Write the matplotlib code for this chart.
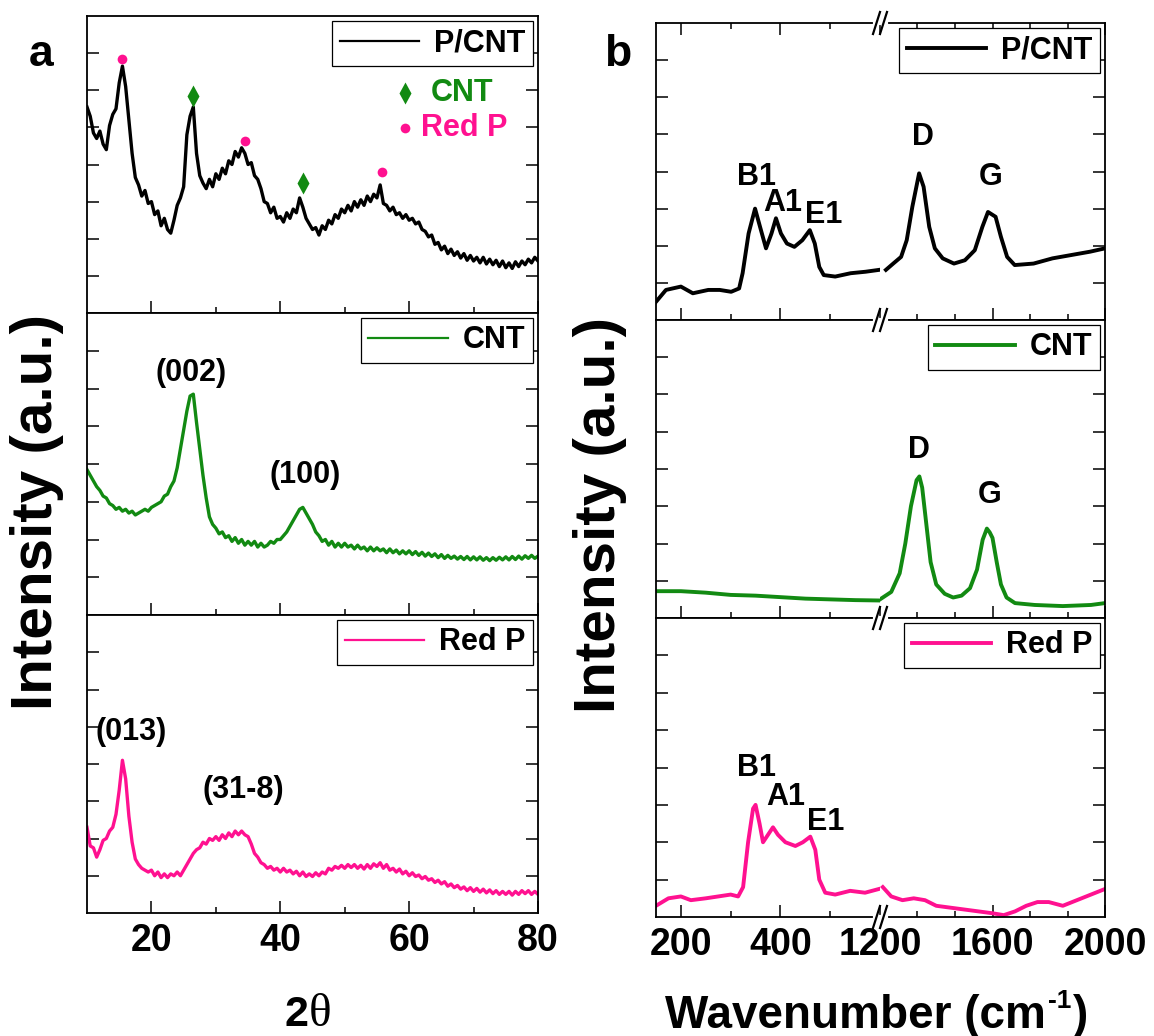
import numpy as np
import matplotlib
matplotlib.use('Agg')
import matplotlib.pyplot as plt
from matplotlib.lines import Line2D

plt.rcParams['font.family'] = ['Liberation Sans', 'DejaVu Sans']
plt.rcParams['font.weight'] = 'bold'

BLACK = 'black'
GREEN = '#128a12'
PINK = '#ff1190'

# ---- XRD data: 2theta grid (0.5 deg steps), intensity in panel units 0-8 ----
xrd_x = np.arange(10, 80.25, 0.5)

xrd_pcnt_y = [5.55, 5.3, 4.85, 4.7, 4.9, 4.55, 4.4, 5.05, 5.35, 5.5,
              6.2, 6.65, 6.1, 5.2, 4.3, 3.65, 3.45, 3.15, 3.3, 2.95,
              3.0, 2.65, 2.75, 2.35, 2.55, 2.25, 2.15, 2.5, 2.9, 3.1,
              3.4, 4.8, 5.3, 5.55, 4.3, 3.7, 3.5, 3.35, 3.6, 3.4,
              3.75, 3.6, 3.9, 3.75, 4.1, 4.0, 4.35, 4.2, 4.45, 4.3,
              4.0, 4.05, 3.7, 3.6, 3.35, 3.0, 2.95, 2.7, 2.85, 2.55,
              2.6, 2.45, 2.7, 2.55, 2.8, 2.7, 3.1, 2.85, 2.55, 2.4,
              2.25, 2.3, 2.1, 2.35, 2.25, 2.5, 2.4, 2.65, 2.55, 2.8,
              2.7, 2.9, 2.75, 3.0, 2.85, 3.05, 2.9, 3.15, 3.0, 3.2,
              3.1, 3.45, 2.95, 2.9, 2.75, 2.85, 2.65, 2.7, 2.55, 2.65,
              2.5, 2.55, 2.4, 2.45, 2.25, 2.2, 2.05, 2.1, 1.85, 1.9,
              1.7, 1.8, 1.6, 1.72, 1.55, 1.65, 1.48, 1.6, 1.42, 1.55,
              1.4, 1.5, 1.35, 1.5, 1.32, 1.45, 1.3, 1.42, 1.25, 1.4,
              1.22, 1.35, 1.2, 1.38, 1.25, 1.4, 1.3, 1.45, 1.35, 1.5,
              1.4]

xrd_cnt_y = [3.85, 3.7, 3.55, 3.4, 3.3, 3.15, 3.1, 2.95, 2.9, 2.8,
             2.85, 2.75, 2.8, 2.7, 2.75, 2.65, 2.7, 2.75, 2.8, 2.75,
             2.85, 2.9, 2.95, 3.0, 3.15, 3.2, 3.4, 3.55, 3.9, 4.4,
             4.9, 5.4, 5.8, 5.85, 5.1, 4.4, 3.7, 3.1, 2.6, 2.4,
             2.3, 2.15, 2.2, 2.05, 2.1, 1.95, 2.05, 1.9, 2.0, 1.85,
             1.95, 1.85, 1.95, 1.8, 1.9, 1.8, 1.85, 1.95, 1.9, 2.0,
             2.0, 2.1, 2.2, 2.35, 2.5, 2.65, 2.8, 2.85, 2.7, 2.55,
             2.4, 2.2, 2.1, 1.95, 2.0, 1.85, 1.95, 1.8, 1.9, 1.8,
             1.9, 1.8, 1.85, 1.75, 1.85, 1.75, 1.8, 1.7, 1.8, 1.7,
             1.78, 1.7, 1.75, 1.65, 1.75, 1.65, 1.72, 1.62, 1.7, 1.62,
             1.7, 1.6, 1.68, 1.58, 1.66, 1.56, 1.64, 1.55, 1.62, 1.52,
             1.6, 1.5, 1.58, 1.5, 1.56, 1.48, 1.55, 1.47, 1.55, 1.46,
             1.54, 1.46, 1.54, 1.45, 1.52, 1.44, 1.52, 1.45, 1.53, 1.46,
             1.54, 1.46, 1.55, 1.47, 1.56, 1.48, 1.57, 1.5, 1.58, 1.5,
             1.56]

xrd_redp_y = [2.3, 1.8, 1.75, 1.5, 1.7, 1.95, 2.0, 2.2, 2.3, 2.65,
              3.3, 4.1, 3.6, 2.6, 1.9, 1.45, 1.3, 1.2, 1.15, 1.1,
              1.15, 1.0, 1.1, 0.95, 1.05, 0.95, 1.05, 1.0, 1.1, 1.0,
              1.15, 1.3, 1.45, 1.6, 1.7, 1.75, 1.9, 1.85, 2.0, 1.95,
              2.05, 1.95, 2.1, 2.0, 2.15, 2.05, 2.2, 2.1, 2.2, 2.1,
              2.05, 1.85, 1.6, 1.5, 1.35, 1.3, 1.2, 1.25, 1.15, 1.2,
              1.1, 1.2, 1.1, 1.15, 1.05, 1.12, 1.0, 1.1, 0.98, 1.05,
              0.98, 1.08, 1.0, 1.1, 1.05, 1.2, 1.15, 1.25, 1.2, 1.28,
              1.2, 1.3, 1.22, 1.3, 1.2, 1.28, 1.18, 1.3, 1.2, 1.32,
              1.25, 1.35, 1.2, 1.3, 1.15, 1.2, 1.1, 1.18, 1.05, 1.12,
              1.0, 1.08, 0.98, 1.02, 0.92, 0.98, 0.88, 0.92, 0.82, 0.88,
              0.78, 0.84, 0.72, 0.78, 0.68, 0.74, 0.64, 0.7, 0.6, 0.68,
              0.58, 0.66, 0.56, 0.64, 0.54, 0.62, 0.52, 0.6, 0.5, 0.58,
              0.5, 0.58, 0.48, 0.58, 0.5, 0.6, 0.52, 0.6, 0.5, 0.58,
              0.5]

# ---- Raman data (wavenumber, intensity in panel units 0-8) ----
ram_pcnt_lo_x = [150, 170, 200, 224, 255, 278, 301, 317, 324, 336, 349, 359, 371, 382, 391, 401, 413, 428, 444, 459,
                 469, 478, 487, 510, 541, 571, 598]
ram_pcnt_lo_y = [0.49, 0.81, 0.9, 0.72, 0.81, 0.81, 0.76, 0.85, 1.26, 2.33, 3.0, 2.51, 1.93, 2.33, 2.74, 2.33, 2.06, 1.97, 2.15, 2.42,
                 2.06, 1.43, 1.21, 1.17, 1.26, 1.3, 1.35]
ram_pcnt_hi_x = [1221, 1247, 1275, 1295, 1315, 1339, 1355, 1375, 1395, 1423, 1463, 1502, 1537, 1564, 1584, 1611, 1630, 1652, 1679, 1746,
                 1813, 1880, 1947, 2000]
ram_pcnt_hi_y = [1.35, 1.52, 1.7, 2.15, 3.05, 3.95, 3.59, 2.51, 1.93, 1.66, 1.52, 1.61, 1.88, 2.51, 2.91, 2.78, 2.24, 1.7, 1.48, 1.52,
                 1.66, 1.75, 1.84, 1.93]

ram_cnt_lo_x = [150, 200, 250, 300, 350, 400, 450, 500, 550, 600]
ram_cnt_lo_y = [0.72, 0.72, 0.68, 0.62, 0.6, 0.56, 0.52, 0.5, 0.48, 0.47]
ram_cnt_hi_x = [1200, 1240, 1270, 1290, 1310, 1330, 1340, 1350, 1365, 1380, 1400, 1430, 1460, 1490, 1520, 1545, 1565, 1580, 1590, 1600,
                1615, 1630, 1650, 1680, 1750, 1850, 1950, 2000]
ram_cnt_hi_y = [0.5, 0.7, 1.2, 2.0, 3.0, 3.7, 3.8, 3.5, 2.5, 1.5, 0.9, 0.65, 0.55, 0.6, 0.8, 1.3, 2.1, 2.4, 2.3, 2.15,
                1.5, 0.9, 0.55, 0.4, 0.35, 0.32, 0.35, 0.4]

ram_redp_lo_x = [150, 175, 200, 220, 250, 275, 300, 315, 325, 335, 345, 350, 358, 365, 375, 385, 395, 410, 430, 445,
                 460, 470, 478, 490, 510, 540, 570, 598]
ram_redp_lo_y = [0.3, 0.5, 0.55, 0.45, 0.5, 0.55, 0.6, 0.55, 0.8, 2.0, 2.9, 3.0, 2.5, 2.0, 2.2, 2.4, 2.2, 2.0, 1.9, 2.0,
                 2.15, 1.8, 1.0, 0.65, 0.6, 0.7, 0.65, 0.75]
ram_redp_hi_x = [1210, 1240, 1280, 1320, 1360, 1400, 1450, 1500, 1550, 1600, 1640, 1680, 1720, 1760, 1800, 1850, 1900, 1950, 2000]
ram_redp_hi_y = [0.8, 0.55, 0.45, 0.5, 0.45, 0.3, 0.25, 0.2, 0.15, 0.1, 0.05, 0.15, 0.3, 0.4, 0.4, 0.3, 0.45, 0.6, 0.75]

# peak markers on the P/CNT pattern
xrd_dot_x = [15.5, 34.5, 55.8]
xrd_dot_y = [6.85, 4.62, 3.81]
xrd_dia_x = [26.5, 43.5]
xrd_dia_y = [5.85, 3.49]

W, H = 1154, 1036
fig = plt.figure(figsize=(W / 100, H / 100), dpi=100)


def box(x0, y0, x1, y1):
    return fig.add_axes([x0 / W, 1 - y1 / H, (x1 - x0) / W, (y1 - y0) / H])


def style(ax, left=True, right=True, top=False, bottom=True):
    for s in ax.spines.values():
        s.set_linewidth(1.3)
    ax.tick_params(which='both', direction='in', width=1.1, colors='black',
                   left=left, right=right, top=top, bottom=bottom,
                   labelleft=False, labelright=False, labeltop=False)
    ax.tick_params(which='major', length=8.5)
    ax.tick_params(which='minor', length=4.5)
    ax.set_ylim(0, 8)
    ax.set_yticks(range(1, 8))


def leg(ax, color, label, lw):
    h = [Line2D([], [], color=color, lw=lw)]
    lg = ax.legend(h, [label], loc='upper right', fontsize=22, frameon=True, fancybox=False,
                   framealpha=1, edgecolor='black', borderpad=0.25, handlelength=2.6,
                   handletextpad=0.5, borderaxespad=0.15)
    lg.get_frame().set_linewidth(0.9)
    for t in lg.get_texts():
        t.set_fontweight('bold')


def note(ax, x, y, s):
    ax.text(x, y, s, fontsize=22, fontweight='bold', ha='center', va='center')


# ---------------- left column: XRD ----------------
lrows = [(16, 313), (313, 615), (615, 913)]
xrd_sets = [(xrd_pcnt_y, BLACK, 'P/CNT'),
            (xrd_cnt_y, GREEN, 'CNT'),
            (xrd_redp_y, PINK, 'Red P')]
laxes = []
for (y0, y1), (ys, c, lab) in zip(lrows, xrd_sets):
    ax = box(87, y0, 538, y1)
    style(ax)
    ax.plot(xrd_x, ys, color=c, lw=2.4)
    ax.set_xlim(10, 80)
    ax.set_xticks([20, 40, 60, 80])
    ax.set_xticks([30, 50, 70], minor=True)
    ax.tick_params(axis='x', labelbottom=False)
    leg(ax, c, lab, 1.6)
    laxes.append(ax)

laxes[2].tick_params(axis='x', labelbottom=True, labelsize=27, pad=7)
for t in laxes[2].get_xticklabels():
    t.set_fontweight('bold')

a0 = laxes[0]
a0.plot(xrd_dot_x, xrd_dot_y, 'o', color=PINK, ms=7, mec='none')
a0.plot(xrd_dia_x, xrd_dia_y, 'd', color=GREEN, ms=11, mec='none')
a0.plot([59.3], [5.92], 'd', color=GREEN, ms=11, mec='none')
a0.text(63.4, 5.92, 'CNT', color=GREEN, fontsize=22, fontweight='bold', va='center')
a0.plot([59.4], [4.98], 'o', color=PINK, ms=7, mec='none')
a0.text(61.8, 4.98, 'Red P', color=PINK, fontsize=22, fontweight='bold', va='center')

note(laxes[1], 26.2, 6.4, '(002)')
note(laxes[1], 43.8, 3.7, '(100)')
note(laxes[2], 16.9, 4.85, '(013)')
note(laxes[2], 34.3, 3.3, '(31-8)')

# ---------------- right column: Raman (broken axis) ----------------
rrows = [(23, 320), (320, 618), (618, 917)]
ram_sets = [(ram_pcnt_lo_x, ram_pcnt_lo_y, ram_pcnt_hi_x, ram_pcnt_hi_y, BLACK, 'P/CNT'),
            (ram_cnt_lo_x, ram_cnt_lo_y, ram_cnt_hi_x, ram_cnt_hi_y, GREEN, 'CNT'),
            (ram_redp_lo_x, ram_redp_lo_y, ram_redp_hi_x, ram_redp_hi_y, PINK, 'Red P')]
XB = 880
raxes = []
for i, ((y0, y1), (lx, ly, hx, hy, c, lab)) in enumerate(zip(rrows, ram_sets)):
    top = (i == 0)
    axl = box(656, y0, XB, y1)
    axr = box(XB, y0, 1105, y1)
    style(axl, left=True, right=False, top=top)
    style(axr, left=False, right=True, top=top)
    axl.spines['right'].set_visible(False)
    axr.spines['left'].set_visible(False)
    axl.plot(lx, ly, color=c, lw=2.8)
    axr.plot(hx, hy, color=c, lw=2.8)
    axl.set_xlim(150, 600)
    axr.set_xlim(1200, 2000)
    axl.set_xticks([200, 400])
    axl.set_xticks([300, 500], minor=True)
    axr.set_xticks([1200, 1600, 2000])
    axr.set_xticks([1333, 1467, 1733, 1867], minor=True)
    axl.tick_params(axis='x', labelbottom=False, labeltop=False)
    axr.tick_params(axis='x', labelbottom=False, labeltop=False)
    leg(axr, c, lab, 2.8)
    raxes.append((axl, axr))

bl, br = raxes[2]
for a in (bl, br):
    a.tick_params(axis='x', labelbottom=True, labelsize=27, pad=7)
    for t in a.get_xticklabels():
        t.set_fontweight('bold')

pl, pr = raxes[0]
note(pl, 352, 3.86, 'B1')
note(pl, 405, 3.14, 'A1')
note(pl, 487, 2.83, 'E1')
note(pr, 1352, 4.93, 'D')
note(pr, 1593, 3.86, 'G')
cl, cr = raxes[1]
note(cr, 1340, 4.5, 'D')
note(cr, 1590, 3.3, 'G')
note(bl, 352, 4.0, 'B1')
note(bl, 410, 3.2, 'A1')
note(bl, 490, 2.55, 'E1')

# break marks on the shared spines
for yb in [23, 320, 618, 917]:
    fig.add_artist(Line2D([(XB - 5) / W, (XB + 6) / W], [1 - yb / H] * 2, color='white', lw=3,
                          transform=fig.transFigure))
    for dx in (-3.5, 3.5):
        xc = XB + dx
        fig.add_artist(Line2D([(xc - 3.5) / W, (xc + 3.5) / W], [1 - (yb + 11) / H, 1 - (yb - 11) / H],
                              color='black', lw=1.6, transform=fig.transFigure))

# axis labels
fig.text(37 / W, 1 - 512 / H, 'Intensity (a.u.)', rotation=90, fontsize=42, fontweight='bold',
         ha='center', va='center')
fig.text(600 / W, 1 - 515 / H, 'Intensity (a.u.)', rotation=90, fontsize=42, fontweight='bold',
         ha='center', va='center')
fig.text(308 / W, 1 - 1026 / H, '2', fontsize=31, fontweight='bold', ha='right', va='baseline')
fig.text(309 / W, 1 - 1026 / H, 'θ', fontsize=34, family='Liberation Serif', fontweight='normal',
         ha='left', va='baseline')

# Wavenumber (cm-1) with a small superscript
fig.canvas.draw()
r = fig.canvas.get_renderer()
t1 = fig.text(665 / W, 1 - 1028 / H, 'Wavenumber (cm', fontsize=33, fontweight='bold',
              ha='left', va='baseline')
e1 = t1.get_window_extent(r)
t2 = fig.text(e1.x1 / W + 2 / W, 1 - 1008 / H, '-1', fontsize=19, fontweight='bold',
              ha='left', va='baseline')
e2 = t2.get_window_extent(r)
fig.text(e2.x1 / W + 2 / W, 1 - 1028 / H, ')', fontsize=33, fontweight='bold', ha='left', va='baseline')

fig.text(41 / W, 1 - 55 / H, 'a', fontsize=32, fontweight='bold', ha='center', va='center')
fig.text(618 / W, 1 - 55 / H, 'b', fontsize=32, fontweight='bold', ha='center', va='center')

fig.savefig('out.png', dpi=100)
